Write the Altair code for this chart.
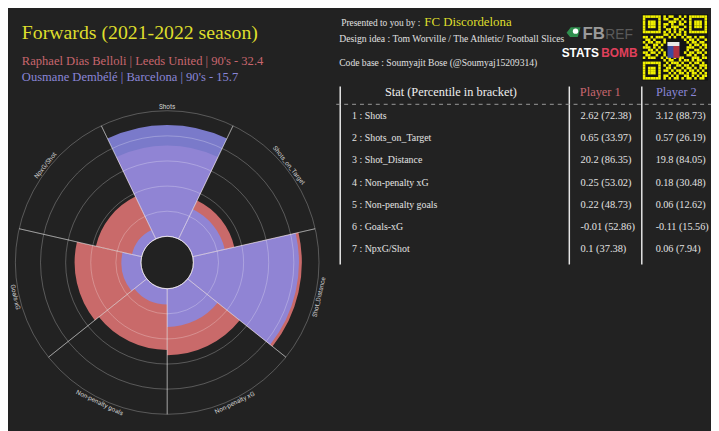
import math
import altair as alt
import pandas as pd

# ---------------- data ----------------
stats = ["Shots", "Shots_on_Target", "Shot_Distance", "Non-penalty xG",
         "Non-penalty goals", "Goals-xG", "NpxG/Shot"]
p1_raw = ["2.62", "0.65", "20.2", "0.25", "0.22", "-0.01", "0.1"]
p1_pct = [72.38, 33.97, 86.35, 53.02, 48.73, 52.86, 37.38]
p2_raw = ["3.12", "0.57", "19.8", "0.18", "0.06", "-0.11", "0.06"]
p2_pct = [88.73, 26.19, 84.05, 30.48, 12.62, 15.56, 7.94]
grid_levels = [20, 40, 60, 80, 100]

title_txt = "Forwards (2021-2022 season)"
player1_txt = "Raphael Dias Belloli | Leeds United | 90's - 32.4"
player2_txt = "Ousmane Dembélé | Barcelona | 90's - 15.7"

qr_rows = [
    "1111111010110010101111111",
    "1000001011001101001000001",
    "1011101000111010101011101",
    "1011101011010011001011101",
    "1011101010011100101011101",
    "1000001001101011001000001",
    "1111111010101010101111111",
    "0000000011010110100000000",
    "1101011100101001011010110",
    "0110100011000001101101001",
    "1011011010000000010110110",
    "0100110100000000001011011",
    "1110101000000000011100101",
    "0011010100000000010011010",
    "1101101010000000101101101",
    "0110010011000001011010010",
    "1011100101101011000111011",
    "0000000010110010110101100",
    "1111111001011101001011010",
    "1000001010100110110100111",
    "1011101001101001011010101",
    "1011101011010110101101010",
    "1011101000101011010110101",
    "1000001011010100110101011",
    "1111111010101101011010110",
]

# ---------------- style ----------------
BG = "#222222"
RED = "#c96a6a"
BLUE = "#8888e4"
YELLOW = "#dede2c"
RED_TXT = "#c8666e"
BLUE_TXT = "#8a86d8"
SERIF = "Liberation Serif"

n = len(stats)
CX, CY = 161, 255
theta_scale = alt.Scale(domain=[0, n], range=[0, 2 * math.pi])
radius_scale = alt.Scale(type="linear", domain=[0, 100], range=[26.5, 153.5])

bars = pd.DataFrame({
    "k": list(range(n)),
    "t0": [k - 0.5 for k in range(n)],
    "t1": [k + 0.5 for k in range(n)],
    "p1": p1_pct,
    "p2": p2_pct,
    "base": [0] * n,
})


def arc_layer(field, color, opacity):
    return alt.Chart(bars).mark_arc(color=color, opacity=opacity).encode(
        x=alt.value(CX), y=alt.value(CY),
        theta=alt.Theta("t0:Q", scale=theta_scale, stack=None),
        theta2="t1:Q",
        radius=alt.Radius(f"{field}:Q", scale=radius_scale, stack=None),
        radius2="base:Q",
    )


red_bars = arc_layer("p1", RED, 1.0)
blue_bars = arc_layer("p2", BLUE, 0.87)

grid = alt.Chart(pd.DataFrame({"g": grid_levels})).mark_arc(
    fillOpacity=0, stroke="white", strokeOpacity=0.32, strokeWidth=0.8
).encode(
    x=alt.value(CX), y=alt.value(CY),
    theta=alt.value(0), theta2=alt.value(2 * math.pi),
    radius=alt.Radius("g:Q", scale=radius_scale, stack=None),
)

spokes_df = pd.DataFrame({"b": [k + 0.5 for k in range(n)], "r": [100] * n, "r0": [0] * n})
spokes = alt.Chart(spokes_df).mark_arc(
    fillOpacity=0, stroke="white", strokeOpacity=0.42, strokeWidth=0.8
).encode(
    x=alt.value(CX), y=alt.value(CY),
    theta=alt.Theta("b:Q", scale=theta_scale, stack=None),
    theta2="b:Q",
    radius=alt.Radius("r:Q", scale=radius_scale, stack=None),
    radius2="r0:Q",
)


def label_angle(k):
    a = k * 360.0 / n
    if 90 < a < 270:
        a -= 180
    return a % 360


labels_df = pd.DataFrame({"k": list(range(n)), "name": stats,
                          "ang": [label_angle(k) for k in range(n)]})
radar_labels = alt.Chart(labels_df).mark_text(
    radius=157.5, font="Roboto", fontSize=6.5, color="#d0d0d0",
    align="center", baseline="middle"
).encode(
    x=alt.value(CX), y=alt.value(CY),
    theta=alt.Theta("k:Q", scale=theta_scale, stack=None),
    angle=alt.Angle("ang:Q", scale=None),
    text="name:N",
)


# ---------------- text helpers ----------------
def txt(s, x, y, size, color, font=SERIF, align="left", weight="normal",
        baseline="alphabetic"):
    return alt.Chart(pd.DataFrame({"t": [s]})).mark_text(
        font=font, fontSize=size, color=color, align=align,
        fontWeight=weight, baseline=baseline
    ).encode(x=alt.value(x), y=alt.value(y), text="t:N")


texts = [
    txt(title_txt, 14, 29, 20, YELLOW),
    txt(player1_txt, 14, 55, 12.7, RED_TXT),
    txt(player2_txt, 14, 71, 12.7, BLUE_TXT),
    txt("Presented to you by : ", 337, 16, 9.5, "#e0e0e0"),
    txt("FC Discordelona", 421, 16, 13, YELLOW),
    txt("Design idea :  Tom Worville / The Athletic/ Football Slices", 335, 32, 9.8, "#e0e0e0"),
    txt("Code base :  Soumyajit Bose (@Soumyaj15209314)", 335, 56, 9.7, "#e0e0e0"),
    txt("FB", 581, 29, 17, "#9a9a9a", font="Liberation Sans", weight="bold"),
    txt("REF", 604, 29, 14, "#5a5a5a", font="Liberation Sans"),
    txt("STATS", 560, 47, 12, "#ffffff", font="Liberation Sans", weight="bold"),
    txt("BOMB", 600, 47, 12, "#e0405c", font="Liberation Sans", weight="bold"),
    txt("Stat (Percentile in bracket)", 448, 83, 12.5, "#eeeeee", align="center", baseline="middle"),
    txt("Player 1", 599, 83, 12.5, RED_TXT, align="center", baseline="middle"),
    txt("Player 2", 676, 83, 12.5, BLUE_TXT, align="center", baseline="middle"),
]

# FBref green mark
fb_mark = alt.Chart(pd.DataFrame({"t": ["a"]})).mark_point(
    shape="M -1 0.1 L -0.4 -0.7 L 1 -0.7 L 0.6 0.7 L -0.5 0.7 Z",
    filled=True, color="#2f8f4e", opacity=1, size=200
).encode(x=alt.value(572), y=alt.value(22))
fb_ball = alt.Chart(pd.DataFrame({"t": ["a"]})).mark_point(
    shape="circle", filled=True, color="#ffffff", opacity=1, size=30
).encode(x=alt.value(574), y=alt.value(21))

# table
tab = pd.DataFrame({
    "row": list(range(1, n + 1)),
    "label": [f"{i + 1} :  {s}" for i, s in enumerate(stats)],
    "v1": [f"{a} ({b})" for a, b in zip(p1_raw, p1_pct)],
    "v2": [f"{a} ({b})" for a, b in zip(p2_raw, p2_pct)],
})
row_scale = alt.Scale(domain=[1, n], range=[107, 241.3])


def tab_col(field, x, size):
    return alt.Chart(tab).mark_text(
        font=SERIF, fontSize=size, color="#e2e2e2", align="left", baseline="middle"
    ).encode(
        x=alt.value(x),
        y=alt.Y("row:Q", scale=row_scale, axis=None),
        text=f"{field}:N",
    )


table = [tab_col("label", 348, 10), tab_col("v1", 579, 10.5), tab_col("v2", 655, 10.3)]

vlines = [
    alt.Chart(pd.DataFrame({"t": [0]})).mark_rule(color="#e6e6e6", strokeWidth=1.5).encode(
        x=alt.value(xv), y=alt.value(77), y2=alt.value(257))
    for xv in (336, 567.7, 641)
]
dash = alt.Chart(pd.DataFrame({"t": [0]})).mark_rule(
    color="#9a9a9a", strokeWidth=1, strokeDash=[4, 4]
).encode(x=alt.value(332), x2=alt.value(711), y=alt.value(95))

# QR code block
cells = []
for r, row in enumerate(qr_rows):
    row = (row + "0" * 25)[:25]
    for c, ch in enumerate(row):
        if 9 <= r <= 15 and 9 <= c <= 15:
            continue
        if ch == "1":
            cells.append({"qc": c, "qc1": c + 1, "qr": r, "qr1": r + 1})
qr_df = pd.DataFrame(cells)
qr_bg = alt.Chart(pd.DataFrame({"t": [0]})).mark_rect(color="#141414").encode(
    x=alt.value(641), x2=alt.value(708), y=alt.value(4), y2=alt.value(71))
qr = alt.Chart(qr_df).mark_rect(color="#f2f200").encode(
    x=alt.X("qc:Q", scale=alt.Scale(domain=[0, 25], range=[642, 707]), axis=None),
    x2="qc1:Q",
    y=alt.Y("qr:Q", scale=alt.Scale(domain=[0, 25], range=[5, 70]), axis=None),
    y2="qr1:Q",
)
badge_blue = alt.Chart(pd.DataFrame({"t": [0]})).mark_rect(color="#3c4aa0").encode(
    x=alt.value(667), x2=alt.value(679), y=alt.value(32), y2=alt.value(48))
badge_red = alt.Chart(pd.DataFrame({"t": [0]})).mark_rect(color="#b03040").encode(
    x=alt.value(673), x2=alt.value(679), y=alt.value(36), y2=alt.value(48))
badge_top = alt.Chart(pd.DataFrame({"t": [0]})).mark_rect(color="#e8e8e8").encode(
    x=alt.value(667), x2=alt.value(679), y=alt.value(32), y2=alt.value(36))

layers = ([red_bars, blue_bars, grid, spokes, radar_labels] + texts +
          [fb_mark, fb_ball] + table + vlines + [dash, qr_bg, qr,
                                                badge_blue, badge_red, badge_top])

chart = alt.layer(*layers).resolve_scale(
    x="independent", y="independent"
).properties(
    width=711, height=423, padding=0, autosize="none", background=BG
).configure_view(strokeWidth=0)

chart.save("out.html", embed_options={"renderer": "svg", "actions": False})
